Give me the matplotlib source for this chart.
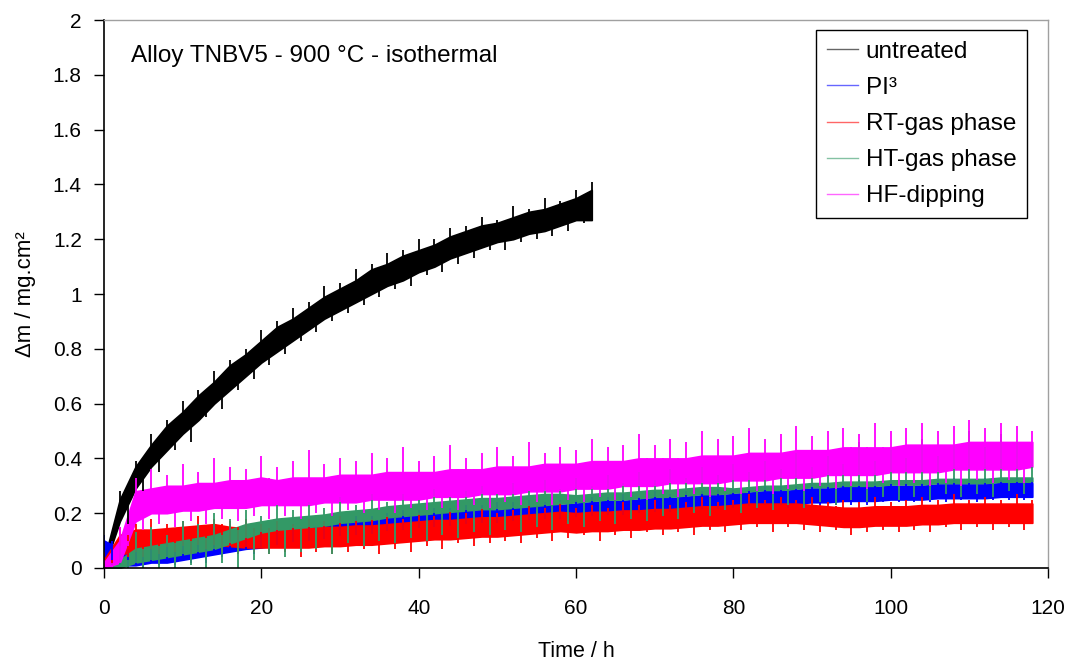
import numpy as np
import matplotlib.pyplot as plt
from matplotlib.lines import Line2D
from matplotlib.ticker import FuncFormatter

plt.rcParams['font.family'] = ['Liberation Sans', 'DejaVu Sans']

# time grids (h): band edges and upper spikes at even hours, lower spikes at odd hours
t_bk = np.arange(0, 63, 2)
t = np.arange(0, 119, 2)

# untreated
bk_lo = [0.00, 0.17, 0.29, 0.37, 0.43, 0.49, 0.54, 0.60, 0.65, 0.70, 0.75, 0.79, 0.83, 0.87, 0.91, 0.94,
         0.97, 1.00, 1.03, 1.05, 1.08, 1.10, 1.13, 1.15, 1.17, 1.19, 1.20, 1.22, 1.23, 1.25, 1.27, 1.27]
bk_hi = [0.03, 0.25, 0.37, 0.45, 0.52, 0.57, 0.63, 0.68, 0.74, 0.78, 0.83, 0.88, 0.91, 0.95, 0.99, 1.02,
         1.05, 1.09, 1.11, 1.14, 1.16, 1.18, 1.21, 1.23, 1.25, 1.26, 1.28, 1.30, 1.31, 1.33, 1.35, 1.38]
bk_top = [0.05, 0.28, 0.39, 0.49, 0.54, 0.61, 0.65, 0.72, 0.76, 0.80, 0.87, 0.90, 0.95, 0.97, 1.03, 1.04,
          1.09, 1.11, 1.15, 1.16, 1.20, 1.20, 1.24, 1.25, 1.28, 1.27, 1.32, 1.31, 1.35, 1.34, 1.38, 1.41]
bk_bot = [0.01, 0.16, 0.28, 0.35, 0.43, 0.46, 0.55, 0.58, 0.65, 0.69, 0.74, 0.78, 0.83, 0.86, 0.90, 0.93,
          0.96, 0.99, 1.02, 1.03, 1.07, 1.08, 1.11, 1.13, 1.16, 1.16, 1.19, 1.20, 1.21, 1.23, 1.26, 1.26]

# PI3
pi_lo = [0.04, 0.01, 0.01, 0.02, 0.02, 0.03, 0.04, 0.05, 0.06, 0.07,
         0.075, 0.085, 0.095, 0.10, 0.105, 0.115, 0.12, 0.125, 0.135, 0.14,
         0.145, 0.15, 0.155, 0.16, 0.165, 0.165, 0.17, 0.175, 0.18, 0.18,
         0.185, 0.19, 0.195, 0.195, 0.20, 0.205, 0.205, 0.21, 0.215, 0.215,
         0.22, 0.225, 0.23, 0.23, 0.235, 0.24, 0.24, 0.245, 0.245, 0.245,
         0.25, 0.25, 0.25, 0.255, 0.255, 0.255, 0.255, 0.26, 0.26, 0.26]
pi_hi = [0.10, 0.07, 0.07, 0.07, 0.08, 0.08, 0.09, 0.10, 0.11, 0.12,
         0.125, 0.135, 0.145, 0.15, 0.155, 0.165, 0.17, 0.175, 0.185, 0.19,
         0.195, 0.20, 0.205, 0.21, 0.215, 0.215, 0.22, 0.225, 0.23, 0.23,
         0.235, 0.24, 0.245, 0.245, 0.25, 0.255, 0.255, 0.26, 0.265, 0.265,
         0.27, 0.275, 0.28, 0.28, 0.285, 0.29, 0.29, 0.295, 0.295, 0.295,
         0.30, 0.30, 0.30, 0.305, 0.305, 0.305, 0.305, 0.31, 0.31, 0.31]
pi_top = [0.12, 0.09, 0.08, 0.09, 0.09, 0.10, 0.10, 0.12, 0.12, 0.14,
          0.14, 0.15, 0.16, 0.17, 0.17, 0.18, 0.19, 0.19, 0.20, 0.21,
          0.21, 0.22, 0.22, 0.23, 0.23, 0.24, 0.24, 0.25, 0.24, 0.25,
          0.25, 0.26, 0.26, 0.27, 0.26, 0.28, 0.27, 0.28, 0.28, 0.29,
          0.29, 0.29, 0.30, 0.30, 0.30, 0.31, 0.31, 0.31, 0.32, 0.31,
          0.32, 0.32, 0.31, 0.32, 0.33, 0.32, 0.33, 0.32, 0.33, 0.33]
pi_bot = [0.02, 0.0, 0.0, 0.01, 0.01, 0.02, 0.02, 0.04, 0.05, 0.05,
          0.06, 0.07, 0.08, 0.09, 0.09, 0.10, 0.11, 0.11, 0.12, 0.13,
          0.13, 0.14, 0.14, 0.15, 0.15, 0.16, 0.16, 0.16, 0.17, 0.17,
          0.17, 0.18, 0.18, 0.19, 0.19, 0.19, 0.20, 0.20, 0.20, 0.21,
          0.21, 0.21, 0.22, 0.22, 0.22, 0.23, 0.23, 0.23, 0.23, 0.24,
          0.24, 0.24, 0.24, 0.24, 0.25, 0.24, 0.25, 0.25, 0.25, 0.25]

# RT-gas phase
rt_lo = [0.00, 0.05, 0.06, 0.07, 0.075, 0.08, 0.085, 0.085, 0.08, 0.075,
         0.075, 0.075, 0.075, 0.075, 0.08, 0.08, 0.085, 0.085, 0.09, 0.095,
         0.10, 0.105, 0.105, 0.11, 0.115, 0.115, 0.12, 0.125, 0.13, 0.135,
         0.13, 0.135, 0.135, 0.14, 0.14, 0.145, 0.145, 0.15, 0.155, 0.155,
         0.16, 0.165, 0.165, 0.165, 0.165, 0.16, 0.155, 0.15, 0.15, 0.155,
         0.155, 0.155, 0.16, 0.16, 0.165, 0.165, 0.165, 0.165, 0.165, 0.165]
rt_hi = [0.03, 0.12, 0.14, 0.14, 0.145, 0.15, 0.155, 0.16, 0.15, 0.145,
         0.145, 0.14, 0.145, 0.145, 0.15, 0.15, 0.155, 0.155, 0.16, 0.165,
         0.17, 0.175, 0.175, 0.18, 0.185, 0.185, 0.19, 0.195, 0.20, 0.205,
         0.20, 0.205, 0.205, 0.21, 0.21, 0.215, 0.215, 0.22, 0.225, 0.225,
         0.23, 0.235, 0.235, 0.235, 0.235, 0.23, 0.225, 0.22, 0.22, 0.225,
         0.225, 0.225, 0.23, 0.23, 0.235, 0.235, 0.235, 0.235, 0.235, 0.235]
rt_top = [0.06, 0.15, 0.16, 0.18, 0.16, 0.17, 0.19, 0.18, 0.17, 0.18,
          0.16, 0.17, 0.16, 0.18, 0.17, 0.19, 0.17, 0.18, 0.19, 0.18,
          0.20, 0.19, 0.21, 0.20, 0.22, 0.20, 0.21, 0.23, 0.22, 0.24,
          0.22, 0.23, 0.22, 0.24, 0.23, 0.25, 0.23, 0.24, 0.26, 0.24,
          0.25, 0.27, 0.25, 0.26, 0.25, 0.26, 0.24, 0.25, 0.24, 0.26,
          0.24, 0.25, 0.26, 0.25, 0.27, 0.25, 0.26, 0.25, 0.27, 0.25]
rt_bot = [0.02, 0.04, 0.04, 0.05, 0.06, 0.05, 0.07, 0.06, 0.05, 0.06,
          0.05, 0.06, 0.04, 0.06, 0.05, 0.06, 0.07, 0.05, 0.07, 0.06,
          0.08, 0.07, 0.09, 0.08, 0.09, 0.10, 0.09, 0.11, 0.10, 0.11,
          0.12, 0.10, 0.12, 0.11, 0.13, 0.12, 0.13, 0.12, 0.14, 0.13,
          0.14, 0.15, 0.13, 0.15, 0.14, 0.13, 0.14, 0.12, 0.13, 0.14,
          0.13, 0.14, 0.13, 0.15, 0.14, 0.15, 0.14, 0.15, 0.14, 0.15]

# HT-gas phase (dense core early, mostly spikes later)
ht_lo = [0.0, 0.0, 0.02, 0.03, 0.04, 0.05, 0.06, 0.07, 0.09, 0.11,
         0.13, 0.14, 0.145, 0.15, 0.155, 0.165, 0.17, 0.175, 0.185, 0.19,
         0.195, 0.20, 0.205, 0.21, 0.215, 0.215, 0.22, 0.225, 0.23, 0.235,
         0.24, 0.245, 0.25, 0.25, 0.255, 0.26, 0.26, 0.265, 0.27, 0.27,
         0.275, 0.28, 0.285, 0.285, 0.29, 0.295, 0.295, 0.30, 0.30, 0.30,
         0.305, 0.305, 0.305, 0.31, 0.31, 0.31, 0.31, 0.315, 0.315, 0.315]
ht_hi = [0.0, 0.03, 0.07, 0.08, 0.09, 0.10, 0.11, 0.12, 0.14, 0.16,
         0.17, 0.18, 0.185, 0.19, 0.195, 0.205, 0.21, 0.215, 0.225, 0.23,
         0.235, 0.24, 0.245, 0.25, 0.255, 0.255, 0.26, 0.265, 0.27, 0.27,
         0.265, 0.27, 0.275, 0.275, 0.28, 0.285, 0.285, 0.29, 0.295, 0.295,
         0.29, 0.295, 0.30, 0.30, 0.305, 0.31, 0.31, 0.315, 0.315, 0.315,
         0.32, 0.32, 0.32, 0.325, 0.325, 0.325, 0.325, 0.33, 0.33, 0.33]
ht_top = [0.0, 0.08, 0.13, 0.15, 0.12, 0.17, 0.16, 0.20, 0.18, 0.21,
          0.19, 0.23, 0.21, 0.24, 0.22, 0.26, 0.23, 0.27, 0.24, 0.27,
          0.25, 0.29, 0.26, 0.28, 0.30, 0.27, 0.31, 0.28, 0.32, 0.29,
          0.33, 0.30, 0.34, 0.31, 0.35, 0.32, 0.36, 0.33, 0.37, 0.34,
          0.38, 0.35, 0.39, 0.36, 0.42, 0.37, 0.41, 0.38, 0.46, 0.39,
          0.43, 0.40, 0.47, 0.41, 0.45, 0.50, 0.44, 0.49, 0.46, 0.43]
ht_bot = [0.0, 0.0, 0.0, 0.0, 0.0, 0.01, 0.0, 0.02, 0.0, 0.03,
          0.05, 0.04, 0.06, 0.07, 0.05, 0.09, 0.08, 0.10, 0.09, 0.11,
          0.10, 0.12, 0.11, 0.13, 0.12, 0.14, 0.13, 0.15, 0.14, 0.16,
          0.15, 0.17, 0.16, 0.18, 0.17, 0.19, 0.18, 0.20, 0.19, 0.21,
          0.20, 0.22, 0.21, 0.23, 0.22, 0.24, 0.23, 0.25, 0.24, 0.26,
          0.25, 0.26, 0.25, 0.27, 0.26, 0.27, 0.26, 0.28, 0.27, 0.28]

# HF-dipping
hf_lo = [0.00, 0.02, 0.17, 0.20, 0.20, 0.21, 0.21, 0.22, 0.22, 0.22,
         0.23, 0.23, 0.23, 0.23, 0.24, 0.24, 0.24, 0.25, 0.25, 0.25,
         0.25, 0.26, 0.26, 0.26, 0.27, 0.27, 0.27, 0.28, 0.28, 0.28,
         0.29, 0.29, 0.29, 0.30, 0.30, 0.30, 0.31, 0.31, 0.31, 0.31,
         0.32, 0.32, 0.32, 0.33, 0.33, 0.33, 0.34, 0.34, 0.34, 0.34,
         0.35, 0.35, 0.35, 0.35, 0.36, 0.36, 0.36, 0.36, 0.36, 0.37]
hf_hi = [0.02, 0.10, 0.28, 0.29, 0.30, 0.30, 0.31, 0.31, 0.32, 0.32,
         0.33, 0.32, 0.33, 0.33, 0.33, 0.34, 0.34, 0.34, 0.35, 0.35,
         0.35, 0.35, 0.36, 0.36, 0.36, 0.37, 0.37, 0.37, 0.38, 0.38,
         0.38, 0.39, 0.39, 0.39, 0.40, 0.40, 0.40, 0.40, 0.41, 0.41,
         0.41, 0.42, 0.42, 0.42, 0.43, 0.43, 0.43, 0.44, 0.44, 0.44,
         0.44, 0.45, 0.45, 0.45, 0.45, 0.46, 0.46, 0.46, 0.46, 0.46]
hf_top = [0.03, 0.15, 0.33, 0.36, 0.34, 0.38, 0.35, 0.40, 0.37, 0.36,
          0.41, 0.37, 0.39, 0.43, 0.38, 0.40, 0.39, 0.42, 0.40, 0.44,
          0.39, 0.41, 0.45, 0.40, 0.42, 0.44, 0.41, 0.46, 0.42, 0.44,
          0.43, 0.47, 0.44, 0.45, 0.49, 0.45, 0.47, 0.46, 0.50, 0.47,
          0.48, 0.51, 0.47, 0.49, 0.52, 0.48, 0.50, 0.51, 0.49, 0.53,
          0.50, 0.51, 0.53, 0.50, 0.52, 0.54, 0.51, 0.53, 0.52, 0.50]
hf_bot = [0.0, 0.08, 0.14, 0.16, 0.15, 0.17, 0.16, 0.18, 0.17, 0.19,
          0.18, 0.19, 0.18, 0.20, 0.19, 0.21, 0.20, 0.21, 0.20, 0.22,
          0.21, 0.22, 0.21, 0.23, 0.22, 0.24, 0.23, 0.24, 0.23, 0.25,
          0.24, 0.26, 0.25, 0.26, 0.25, 0.27, 0.26, 0.27, 0.26, 0.28,
          0.27, 0.28, 0.27, 0.29, 0.28, 0.30, 0.29, 0.30, 0.29, 0.31,
          0.30, 0.31, 0.30, 0.31, 0.30, 0.32, 0.31, 0.32, 0.31, 0.32]

labels = ['untreated', 'PI³', 'RT-gas phase', 'HT-gas phase', 'HF-dipping']
colors = ['black', '#0000ff', '#ff0000', '#339966', '#ff00ff']

fig = plt.figure(figsize=(10.76, 6.61), dpi=100)
ax = fig.add_axes([0.0967, 0.1407, 0.8773, 0.829])


def noisy(x, lo, hi, top, bot, color):
    ax.fill_between(x, lo, hi, color=color, lw=1.2)
    # short vertical spikes: upward at even hours, downward at odd hours
    ax.vlines(x, lo, top, color=color, lw=1.3)
    ax.vlines(x[:-1] + 1, bot[:-1], hi[:-1], color=color, lw=1.3)


noisy(t_bk, bk_lo, bk_hi, bk_top, bk_bot, colors[0])
noisy(t, pi_lo, pi_hi, pi_top, pi_bot, colors[1])
noisy(t, rt_lo, rt_hi, rt_top, rt_bot, colors[2])
noisy(t, ht_lo, ht_hi, ht_top, ht_bot, colors[3])
noisy(t, hf_lo, hf_hi, hf_top, hf_bot, colors[4])

ax.set_xlim(0, 120)
ax.set_ylim(0, 2)
ax.set_xticks(np.arange(0, 121, 20))
ax.set_yticks(np.arange(0, 2.01, 0.2))
ax.yaxis.set_major_formatter(FuncFormatter(lambda v, p: f'{v:g}'))
ax.tick_params(direction='out', length=7, width=1, labelsize=15)
ax.tick_params(axis='y', pad=9)
ax.tick_params(axis='x', pad=15)

for s in ['left', 'bottom']:
    ax.spines[s].set_color('black')
    ax.spines[s].set_linewidth(1.2)
for s in ['top', 'right']:
    ax.spines[s].set_color('#a0a0a0')
    ax.spines[s].set_linewidth(1)

ax.set_xlabel('Time / h', fontsize=15.5, labelpad=17)
ax.set_ylabel('Δm / mg.cm²', fontsize=16, labelpad=12)
ax.text(0.029, 0.935, 'Alloy TNBV5 - 900 °C - isothermal', transform=ax.transAxes,
        fontsize=17.5, va='center')

handles = [Line2D([], [], color=c, lw=1, alpha=0.6) for c in colors]
leg = ax.legend(handles, labels, loc='upper right', bbox_to_anchor=(0.978, 0.982),
                borderaxespad=0, fancybox=False, edgecolor='black', framealpha=1,
                fontsize=17.5, handlelength=1.3, handletextpad=0.3, labelspacing=0.58,
                borderpad=0.45)
leg.get_frame().set_linewidth(1)

fig.savefig('out.png', dpi=100)
